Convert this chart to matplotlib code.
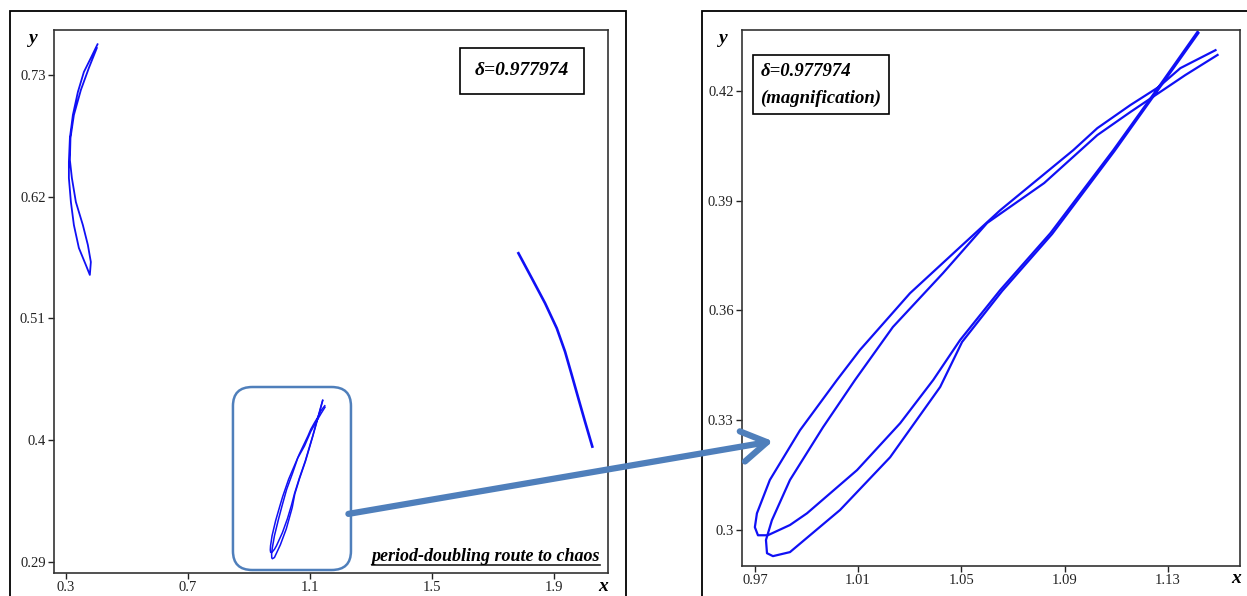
import numpy as np
import matplotlib.pyplot as plt
from matplotlib.patches import Rectangle, FancyBboxPatch, ConnectionPatch

plt.rcParams['font.family'] = ['Liberation Serif', 'DejaVu Serif']

# ---- data ----
# left arc of the attractor (outer line down, inner line back up)
arc_left_x = [0.4037, 0.3818, 0.3589, 0.3393, 0.3229, 0.3131, 0.3098, 0.3098, 0.3164, 0.3262,
              0.3425, 0.3654, 0.3785, 0.3818, 0.3720, 0.3556, 0.3327, 0.3196, 0.3131, 0.3150,
              0.3262, 0.3491, 0.3753, 0.4014]
arc_left_y = [0.7577, 0.7453, 0.7326, 0.7146, 0.6938, 0.6730, 0.6513, 0.6369, 0.6152, 0.5944,
              0.5737, 0.5583, 0.5493, 0.5610, 0.5764, 0.5944, 0.6152, 0.6369, 0.6531, 0.6730,
              0.6938, 0.7164, 0.7363, 0.7543]

# right arc
arc_right_x = [1.7833, 1.8272, 1.8707, 1.9090, 1.9361, 1.9581, 1.9796, 2.0016, 2.0255]
arc_right_y = [0.5689, 0.5463, 0.5237, 0.5011, 0.4800, 0.4589, 0.4379, 0.4167, 0.3942]

# middle piece (also the magnified panel): two loops
loop1_x = [1.1485, 1.1349, 1.1264, 1.1155, 1.1027, 1.0934, 1.0651, 1.0495, 1.0301, 1.0107,
           1.0018, 0.9875, 0.9758, 0.9708, 0.9700, 0.9712, 0.9750, 0.9836, 0.9902, 1.0096,
           1.0263, 1.0391, 1.0495, 1.0651, 1.0845, 1.1089, 1.1264, 1.1415]
loop1_y = [0.4311, 0.4262, 0.4210, 0.4161, 0.4098, 0.4038, 0.3874, 0.3773, 0.3647, 0.3492,
           0.3410, 0.3273, 0.3137, 0.3046, 0.3008, 0.2986, 0.2986, 0.3014, 0.3046, 0.3164,
           0.3292, 0.3410, 0.3519, 0.3656, 0.3811, 0.4038, 0.4210, 0.4361]
loop2_x = [1.1493, 1.1368, 1.1271, 1.1155, 1.1027, 1.0821, 1.0600, 1.0429, 1.0235, 1.0088,
           0.9964, 0.9836, 0.9766, 0.9743, 0.9747, 0.9770, 0.9836, 1.0030, 1.0224, 1.0418,
           1.0503, 1.0658, 1.0852, 1.1093, 1.1268, 1.1419]
loop2_y = [0.4298, 0.4243, 0.4197, 0.4142, 0.4079, 0.3948, 0.3839, 0.3702, 0.3555, 0.3410,
           0.3281, 0.3137, 0.3027, 0.2973, 0.2937, 0.2929, 0.2940, 0.3055, 0.3199, 0.3391,
           0.3514, 0.3653, 0.3809, 0.4035, 0.4208, 0.4358]

left_xticks = [0.3, 0.7, 1.1, 1.5, 1.9]
left_xlabels = ['0.3', '0.7', '1.1', '1.5', '1.9']
left_yticks = [0.29, 0.4, 0.51, 0.62, 0.73]
left_ylabels = ['0.29', '0.4', '0.51', '0.62', '0.73']
right_xticks = [0.97, 1.01, 1.05, 1.09, 1.13]
right_xlabels = ['0.97', '1.01', '1.05', '1.09', '1.13']
right_yticks = [0.3, 0.33, 0.36, 0.39, 0.42]
right_ylabels = ['0.3', '0.33', '0.36', '0.39', '0.42']

delta_text = 'δ=0.977974'

curve_col = '#1010f5'
callout_col = '#4f7fbb'

fig = plt.figure(figsize=(12.47, 5.96), dpi=100)

# outer frames
fig.add_artist(Rectangle((0.008, -0.05), 0.494, 1.0315, transform=fig.transFigure,
                         fill=False, lw=1.3, ec='black'))
fig.add_artist(Rectangle((0.563, -0.05), 0.5, 1.0315, transform=fig.transFigure,
                         fill=False, lw=1.3, ec='black'))

ax1 = fig.add_axes([0.0433, 0.0386, 0.4443, 0.9111])
ax2 = fig.add_axes([0.5950, 0.0503, 0.3994, 0.8993])

# left panel
ax1.plot(arc_left_x, arc_left_y, color=curve_col, lw=1.3)
ax1.plot(arc_right_x, arc_right_y, color=curve_col, lw=1.9)
ax1.plot(loop1_x, loop1_y, color=curve_col, lw=1.1)
ax1.plot(loop2_x, loop2_y, color=curve_col, lw=1.1)
ax1.set_xlim(0.261, 2.077)
ax1.set_ylim(0.280, 0.7706)
ax1.set_xticks(left_xticks, left_xlabels)
ax1.set_yticks(left_yticks, left_ylabels)

# right panel (magnification)
ax2.plot(loop1_x, loop1_y, color=curve_col, lw=1.6)
ax2.plot(loop2_x, loop2_y, color=curve_col, lw=1.6)
ax2.set_xlim(0.965, 1.158)
ax2.set_ylim(0.2902, 0.4366)
ax2.set_xticks(right_xticks, right_xlabels)
ax2.set_yticks(right_yticks, right_ylabels)

for ax in (ax1, ax2):
    for s in ax.spines.values():
        s.set_linewidth(1.2)
        s.set_color('#333333')
    ax.tick_params(direction='out', length=4, width=1, labelsize=10.5, pad=2, colors='#222222')
    ax.text(-0.038, 0.985, 'y', transform=ax.transAxes, fontsize=14, fontweight='bold',
            fontstyle='italic', ha='center', va='center')
    ax.text(0.992, -0.024, 'x', transform=ax.transAxes, fontsize=14, fontweight='bold',
            fontstyle='italic', ha='center', va='center')

# text boxes
ax1.text(0.845, 0.9245, delta_text, transform=ax1.transAxes, fontsize=14, fontweight='bold',
         fontstyle='italic', ha='center', va='center',
         bbox=dict(boxstyle='square,pad=0.75', fc='white', ec='black', lw=1.2))
ax2.text(0.1586, 0.898, delta_text + '\n(magnification)', transform=ax2.transAxes, fontsize=13.5,
         fontweight='bold', fontstyle='italic', ha='center', va='center', multialignment='left',
         linespacing=1.75,
         bbox=dict(boxstyle='square,pad=0.4', fc='white', ec='black', lw=1.2))

# rounded box around the middle piece
ax1.add_patch(FancyBboxPatch((0.323, 0.0055), 0.213, 0.337, transform=ax1.transAxes,
                             boxstyle='round,pad=0,rounding_size=0.035',
                             fill=False, ec=callout_col, lw=1.8, clip_on=False))

# label with underline
lab = ax1.text(0.9856, 0.022, 'period-doubling route to chaos', transform=ax1.transAxes,
               fontsize=13, fontweight='bold', fontstyle='italic', ha='right', va='baseline')
fig.canvas.draw()
bb = lab.get_window_extent().transformed(ax1.transAxes.inverted())
ax1.plot([bb.x0, bb.x1], [0.0147, 0.0147], transform=ax1.transAxes, color='#222222',
         lw=1.2, clip_on=False)

# arrow from the box to the magnified panel
arr = ConnectionPatch(xyA=(1.226, 0.3334), coordsA='data', axesA=ax1,
                      xyB=(0.977, 0.3243), coordsB='data', axesB=ax2,
                      arrowstyle='->,head_length=0.9,head_width=0.55', mutation_scale=20,
                      color=callout_col, lw=4.5, shrinkA=0, shrinkB=0, zorder=10)
fig.add_artist(arr)

fig.savefig('out.png', dpi=100)
